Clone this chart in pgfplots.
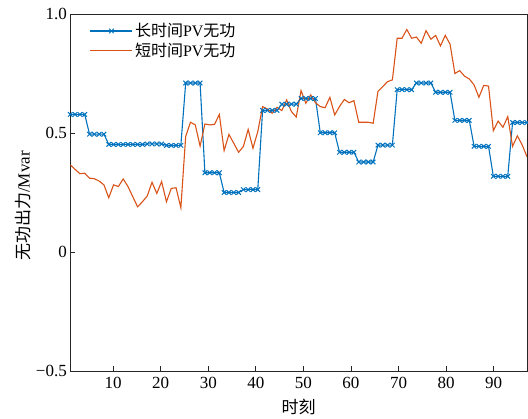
\documentclass[border=0pt]{standalone}
\usepackage{pgfplots}
\pgfplotsset{compat=1.18}
\usepackage{pgfplotstable}
\usepackage{fontspec}
\setmainfont{Liberation Serif}
\newfontfamily\cjk{Noto Sans CJK SC}

\definecolor{mblue}{HTML}{0072BD}
\definecolor{mred}{HTML}{D95319}

% 96 quarter-hour points: long-time-scale (hourly steps) and short-time-scale PV reactive power
\pgfplotstableread{
i  long   short
1  0.578  0.366
2  0.578  0.347
3  0.578  0.329
4  0.578  0.331
5  0.495  0.310
6  0.495  0.308
7  0.495  0.298
8  0.495  0.282
9  0.452  0.228
10 0.452  0.282
11 0.452  0.275
12 0.452  0.307
13 0.452  0.275
14 0.452  0.232
15 0.452  0.190
16 0.452  0.211
17 0.454  0.235
18 0.454  0.293
19 0.454  0.246
20 0.454  0.296
21 0.448  0.211
22 0.448  0.267
23 0.448  0.270
24 0.448  0.186
25 0.710  0.485
26 0.710  0.545
27 0.710  0.534
28 0.710  0.445
29 0.333  0.538
30 0.333  0.534
31 0.333  0.536
32 0.333  0.578
33 0.250  0.426
34 0.250  0.494
35 0.250  0.457
36 0.250  0.419
37 0.262  0.443
38 0.262  0.515
39 0.262  0.436
40 0.262  0.506
41 0.595  0.611
42 0.595  0.601
43 0.595  0.583
44 0.595  0.608
45 0.621  0.594
46 0.621  0.639
47 0.621  0.590
48 0.621  0.567
49 0.645  0.678
50 0.645  0.625
51 0.645  0.660
52 0.645  0.627
53 0.501  0.611
54 0.501  0.606
55 0.501  0.650
56 0.501  0.576
57 0.419  0.611
58 0.419  0.641
59 0.419  0.627
60 0.419  0.636
61 0.378  0.545
62 0.378  0.545
63 0.378  0.545
64 0.378  0.541
65 0.449  0.675
66 0.449  0.695
67 0.449  0.716
68 0.449  0.723
69 0.682  0.898
70 0.682  0.898
71 0.682  0.935
72 0.682  0.898
73 0.710  0.903
74 0.710  0.877
75 0.710  0.930
76 0.710  0.894
77 0.671  0.910
78 0.671  0.866
79 0.671  0.910
80 0.671  0.873
81 0.553  0.750
82 0.553  0.762
83 0.553  0.739
84 0.553  0.727
85 0.444  0.702
86 0.444  0.650
87 0.444  0.700
88 0.444  0.697
89 0.318  0.510
90 0.318  0.550
91 0.318  0.524
92 0.318  0.569
93 0.544  0.444
94 0.544  0.488
95 0.544  0.450
96 0.544  0.400
}\pvdata

\begin{document}
\begin{tikzpicture}
\path[use as bounding box] (-70.3pt,-48pt) rectangle (457.7pt,371pt);
\begin{axis}[
  scale only axis,
  width=456.7pt, height=357pt,
  xmin=1, xmax=97,
  ymin=-0.5, ymax=1.0,
  xtick={10,20,...,90},
  ytick={-0.5,0,0.5,1.0},
  yticklabels={−0.5,0,0.5,1.0},
  tick pos=left,
  tick align=inside,
  major tick length=5pt,
  axis line style={gray!30!black, line width=0.8pt},
  every tick/.style={gray!30!black, line width=0.8pt},
  /pgf/number format/assume math mode=true,
  tick label style={font=\fontsize{17}{20}\selectfont},
  xticklabel style={yshift=-3pt},
  xlabel={\cjk 时刻},
  ylabel={\cjk 无功出力\rmfamily/Mvar},
  label style={font=\fontsize{17}{20}\selectfont},
  xlabel style={yshift=-3pt},
  ylabel style={at={(ticklabel cs:0.462)}, yshift=-2pt},
  legend style={
    draw=none, fill=none,
    at={(rel axis cs:0.036,0.985)}, anchor=north west,
    font=\fontsize{16}{19}\selectfont,
    row sep=1pt,
    legend cell align=left,
  },
  legend image code/.code={
    \draw[mark repeat=2, mark phase=2] plot coordinates {(0pt,0pt) (21pt,0pt) (42pt,0pt)};
  },
  clip=true,
]
\addplot[color=mblue, line width=1.1pt, mark=x, mark size=3.2pt,
  mark options={line width=1pt}]
  table[x expr={1+(\thisrow{i}-1)*96/95}, y=long] {\pvdata};
\addlegendentry{\cjk 长时间\rmfamily PV\cjk 无功}
\addplot[color=mred, line width=1.1pt]
  table[x expr={1+(\thisrow{i}-1)*96/95}, y=short] {\pvdata};
\addlegendentry{\cjk 短时间\rmfamily PV\cjk 无功}
\end{axis}
\end{tikzpicture}
\end{document}
